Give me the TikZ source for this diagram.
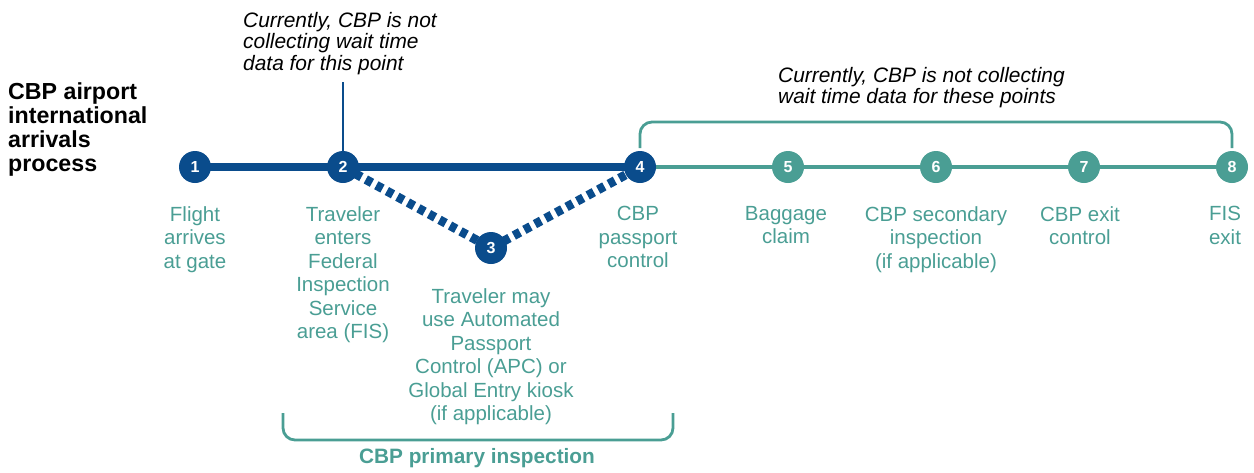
\documentclass[tikz,border=0pt]{standalone}
\usepackage{fontspec}
\setmainfont{Liberation Sans}
\definecolor{cbpblue}{RGB}{10,76,140}
\definecolor{cbpteal}{RGB}{74,158,148}
\begin{document}
\begin{tikzpicture}[x=1pt,y=-1pt,
  bluedot/.style={circle,fill=cbpblue,minimum size=32pt,inner sep=0pt,text=white,font=\fontsize{16}{16}\selectfont\bfseries},
  tealdot/.style={circle,fill=cbpteal,minimum size=32pt,inner sep=0pt,text=white,font=\fontsize{16}{16}\selectfont\bfseries},
  steplabel/.style={anchor=north,align=center,inner sep=0pt,text=cbpteal,font=\fontsize{20.5}{23.5}\selectfont},
  note/.style={anchor=north west,align=left,inner sep=0pt,text=black,font=\fontsize{20.9}{21.5}\selectfont\itshape},
  bracketline/.style={draw=cbpteal,line width=2.8pt,rounded corners=12pt},
  mainblue/.style={draw=cbpblue,line width=8pt},
  mainteal/.style={draw=cbpteal,line width=4.5pt},
  dotline/.style={draw=cbpblue,line width=9pt,dash pattern=on 7pt off 5pt}]
\useasboundingbox (0,0) rectangle (1254,472);
% title
\node[anchor=north west,align=left,inner sep=0pt,font=\fontsize{23.2}{24}\selectfont\bfseries] (title) at (8,82) {CBP airport\\international\\arrivals\\process};
% annotations
\node[note] (noteA) at (243,12) {Currently, CBP is not\\collecting wait time\\data for this point};
\node[note] (noteB) at (778,67) {Currently, CBP is not collecting\\wait time data for these points};
% points
\coordinate (p1) at (195,167);
\coordinate (p2) at (343,167);
\coordinate (p3) at (491,248);
\coordinate (p4) at (640,167);
\coordinate (p5) at (788,167);
\coordinate (p6) at (936,167);
\coordinate (p7) at (1084,167);
\coordinate (p8) at (1232,167);
\coordinate (vtop) at (343,82);
% lines
\draw[mainteal] (p4) -- (p8);
\draw[mainblue] (p1) -- (p4);
\draw[dotline,shorten <=14pt,shorten >=14pt] (p2) -- (p3);
\draw[dotline,shorten <=14pt,shorten >=14pt] (p3) -- (p4);
\draw[draw=cbpblue,line width=2pt] (vtop) -- (p2);
% nodes
\node[bluedot] (n1) at (p1) {1};
\node[bluedot] (n2) at (p2) {2};
\node[bluedot] (n3) at (p3) {3};
\node[bluedot] (n4) at (p4) {4};
\node[tealdot] (n5) at (p5) {5};
\node[tealdot] (n6) at (p6) {6};
\node[tealdot] (n7) at (p7) {7};
\node[tealdot] (n8) at (p8) {8};
% top bracket
\coordinate (tbL) at (640,148);
\coordinate (tbR) at (1232,148);
\draw[bracketline] (tbL) -- (640,122) -- (1232,122) -- (tbR);
% labels
\node[steplabel] (l1) at (195,206) {Flight\\arrives\\at gate};
\node[steplabel] (l2) at (343,206) {Traveler\\enters\\Federal\\Inspection\\Service\\area (FIS)};
\node[steplabel] (l3) at (491,288) {Traveler may\\use Automated\\Passport\\Control (APC) or\\Global Entry kiosk\\(if applicable)};
\node[steplabel] (l4) at (638,206) {CBP\\passport\\control};
\node[steplabel] (l5) at (786,206) {Baggage\\claim};
\node[steplabel] (l6) at (936,206) {CBP secondary\\inspection\\(if applicable)};
\node[steplabel] (l7) at (1080,206) {CBP exit\\control};
\node[steplabel] (l8) at (1225,206) {FIS\\exit};
% bottom bracket
\coordinate (bbL) at (283,413);
\coordinate (bbR) at (673,413);
\draw[bracketline] (bbL) -- (283,440) -- (673,440) -- (bbR);
\node[anchor=north,inner sep=0pt,text=cbpteal,font=\fontsize{20.8}{22}\selectfont\bfseries] (prim) at (477,448) {CBP primary inspection};
\end{tikzpicture}
\end{document}
